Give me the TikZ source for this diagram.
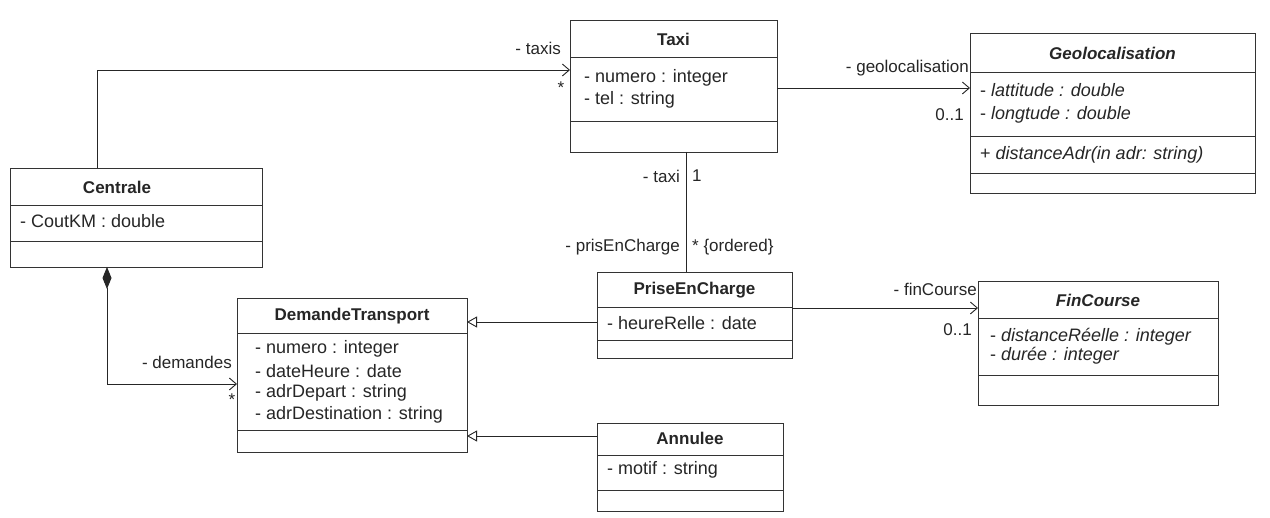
\documentclass[tikz,border=0pt]{standalone}
\usepackage{fontspec}
\setmainfont{Liberation Sans}
\usetikzlibrary{arrows.meta,calc}
\begin{document}
\begin{tikzpicture}[x=1pt,y=-1pt,
  box/.style={draw=black!80,line width=0.8pt,inner sep=0pt,outer sep=0pt,anchor=north west},
  ctitle/.style={font=\fontsize{17}{19}\selectfont\bfseries,text=black!85,inner sep=0pt},
  attr/.style={font=\fontsize{18}{20}\selectfont,text=black!85,anchor=west,inner sep=0pt},
  lbl/.style={font=\fontsize{17}{19}\selectfont,text=black!85,inner sep=0pt},
  sep/.style={draw=black!80,line width=0.8pt},
  assoc/.style={draw=black!85,line width=0.9pt,-{Straight Barb[length=7pt,width=12pt]}},
  gen/.style={draw=black!85,line width=0.9pt,-{Triangle[open,length=10pt,width=11pt]}},
  comp/.style={draw=black!85,line width=0.9pt,{Diamond[length=22pt,width=9pt]}-{Straight Barb[length=7pt,width=12pt]}}
]
\useasboundingbox[fill=white] (0,0) rectangle (1270,518);

% Taxi
\node[box,minimum width=207pt,minimum height=132pt] (taxi) at (570,20) {};
\draw[sep] (taxi.west |- 0,57) -- (taxi.east |- 0,57);
\draw[sep] (taxi.west |- 0,121) -- (taxi.east |- 0,121);
\node[ctitle] (taxit) at (673.5,39) {Taxi};
\node[attr] (taxia1) at (584,78) {- numero : integer};
\node[attr] (taxia2) at (584,100) {- tel : string};

% Geolocalisation
\node[box,minimum width=285pt,minimum height=160pt] (geo) at (970,33) {};
\draw[sep] (geo.west |- 0,72) -- (geo.east |- 0,72);
\draw[sep] (geo.west |- 0,136) -- (geo.east |- 0,136);
\draw[sep] (geo.west |- 0,173) -- (geo.east |- 0,173);
\node[ctitle] (geot) at (1112.5,53) {\itshape Geolocalisation};
\node[attr] (geoa1) at (980,90) {- \textit{lattitude : double}};
\node[attr] (geoa2) at (980,115) {- \textit{longtude : double}};
\node[attr] (geoo1) at (980,155) {+ \textit{distanceAdr(in adr: string)}};

% Centrale
\node[box,minimum width=252pt,minimum height=99pt] (centrale) at (10,168) {};
\draw[sep] (centrale.west |- 0,205) -- (centrale.east |- 0,205);
\draw[sep] (centrale.west |- 0,241) -- (centrale.east |- 0,241);
\node[ctitle] (centralet) at (117,187) {Centrale};
\node[attr] (centralea1) at (20,221) {- CoutKM : double};

% DemandeTransport
\node[box,minimum width=230pt,minimum height=154pt] (demande) at (237,298) {};
\draw[sep] (demande.west |- 0,333) -- (demande.east |- 0,333);
\draw[sep] (demande.west |- 0,430) -- (demande.east |- 0,430);
\node[ctitle] (demandet) at (352,316) {DemandeTransport};
\node[attr] (demandea1) at (255,349) {- numero : integer};
\node[attr] (demandea2) at (255,371) {- dateHeure : date};
\node[attr] (demandea3) at (255,393) {- adrDepart : string};
\node[attr] (demandea4) at (255,415) {- adrDestination : string};

% PriseEnCharge
\node[box,minimum width=195pt,minimum height=86pt] (prise) at (597,272) {};
\draw[sep] (prise.west |- 0,307) -- (prise.east |- 0,307);
\draw[sep] (prise.west |- 0,340) -- (prise.east |- 0,340);
\node[ctitle] (priset) at (694.5,290) {PriseEnCharge};
\node[attr] (prisea1) at (607,323) {- heureRelle : date};

% FinCourse
\node[box,minimum width=240pt,minimum height=124pt] (fin) at (978,281) {};
\draw[sep] (fin.west |- 0,318) -- (fin.east |- 0,318);
\draw[sep] (fin.west |- 0,375) -- (fin.east |- 0,375);
\node[ctitle] (fint) at (1098,300) {\itshape FinCourse};
\node[attr] (fina1) at (990,337) {- \textit{distanceRéelle : integer}};
\node[attr] (fina2) at (990,356) {- \textit{durée : integer}};

% Annulee
\node[box,minimum width=186pt,minimum height=88pt] (annulee) at (597,423) {};
\draw[sep] (annulee.west |- 0,455) -- (annulee.east |- 0,455);
\draw[sep] (annulee.west |- 0,490) -- (annulee.east |- 0,490);
\node[ctitle] (annuleet) at (690,438) {Annulee};
\node[attr] (annuleea1) at (607,470) {- motif : string};

% Centrale -> Taxi
\draw[assoc] (centrale.north -| 97,0) |- (taxi.west |- 0,70);
\node[lbl,anchor=east] (l1) at (561,48) {- taxis};
\node[lbl] (l2) at (561,88) {*};

% Taxi -> Geolocalisation
\draw[assoc] (taxi.east |- 0,88) -- (geo.west |- 0,88);
\node[lbl,anchor=east] (l3) at (969,68) {- geolocalisation};
\node[lbl,anchor=east] (l4) at (964,115) {0..1};

% Taxi -- PriseEnCharge
\draw[draw=black!85,line width=0.9pt] (taxi.south -| 686,0) -- (prise.north -| 686,0);
\node[lbl,anchor=east] (l5) at (680,176) {- taxi};
\node[lbl,anchor=west] (l6) at (692,176) {1};
\node[lbl,anchor=east] (l7) at (680,247) {- prisEnCharge};
\node[lbl,anchor=west] (l8) at (692,247) {* \{ordered\}};

% PriseEnCharge -> FinCourse
\draw[assoc] (prise.east |- 0,308) -- (fin.west |- 0,308);
\node[lbl,anchor=east] (l9) at (977,289) {- finCourse};
\node[lbl,anchor=east] (l10) at (972,330) {0..1};

% Generalisations
\draw[gen] (prise.west |- 0,322) -- (demande.east |- 0,322);
\draw[gen] (annulee.west |- 0,436) -- (demande.east |- 0,436);

% Centrale <>-> DemandeTransport
\draw[comp] (centrale.south -| 107,0) |- (demande.west |- 0,384);
\node[lbl,anchor=east] (l11) at (232,362) {- demandes};
\node[lbl] (l12) at (232,400) {*};

\end{tikzpicture}
\end{document}
